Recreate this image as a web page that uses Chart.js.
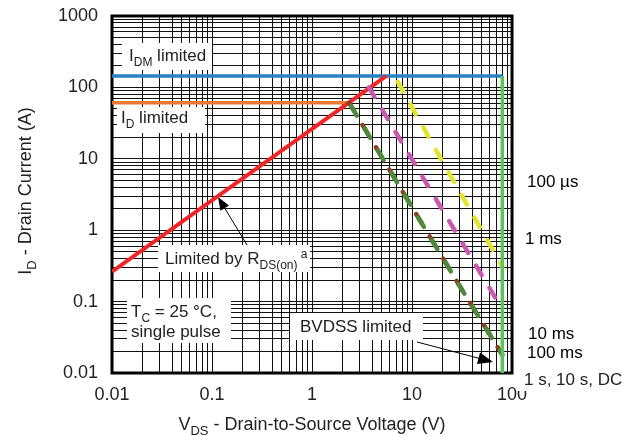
<!DOCTYPE html>
<html>
<head>
<meta charset="utf-8">
<script src="https://cdn.jsdelivr.net/npm/chart.js@4.4.1/dist/chart.umd.min.js"></script>
<style>
  html, body { margin: 0; padding: 0; background: #fff; }
  canvas { display: block; }
</style>
</head>
<body>
<canvas id="soa" width="639" height="436"></canvas>
<script>
// ── Axis ticks ───────────────────────────────────────────────
const xTicks      = [0.01, 0.1, 1, 10, 100];
const xTickLabels = ['0.01', '0.1', '1', '10', '100'];
const yTicks      = [0.01, 0.1, 1, 10, 100, 1000];
const yTickLabels = ['0.01', '0.1', '1', '10', '100', '1000'];

// ── Limit lines (V, A) ───────────────────────────────────────
const idmV = [0.01, 80];    const idmI = [145, 145];     // I_DM limited
const idV  = [0.01, 2.35];  const idI  = [61, 61];       // I_D limited
const rdsV = [0.01, 5.55];  const rdsI = [0.262, 145];   // R_DS(on) limited
const bvV  = [80, 80];      const bvI  = [145, 0.01];    // BVDSS, 1 s, 10 s, DC

// ── Pulse curves (V, A) ──────────────────────────────────────
const us100V = [7.2, 20, 80];          const us100I = [120, 9.3, 0.31];
const ms1V   = [3.7, 10, 80];          const ms1I   = [100, 9.8, 0.078];
const ms10V  = [2.35, 10, 30, 80];     const ms10I  = [61, 2.1, 0.165, 0.018];
const ms100V = [2.35, 10, 30, 80];     const ms100I = [61, 2.1, 0.165, 0.018];

const FONT = '"Liberation Sans", Arial, sans-serif';
const INK  = '#222';

const pts = (xs, ys) => xs.map((x, i) => ({ x, y: ys[i] }));

function logGrid(decades) {
  const out = [];
  for (let i = 0; i < decades.length - 1; i++)
    for (let k = 1; k <= 9; k++) out.push(decades[i] * k);
  out.push(decades.at(-1));
  return out;
}

function labelFor(v, ticks, labels) {
  const i = ticks.findIndex(t => Math.abs(Math.log10(v) - Math.log10(t)) < 1e-6);
  return i < 0 ? '' : labels[i];
}

function line(data, color, width, order, dash, dashOff) {
  return {
    data, order,
    showLine: true, pointRadius: 0,
    borderColor: color, borderWidth: width,
    borderDash: dash || [], borderDashOffset: dashOff || 0,
    borderCapStyle: dash ? 'round' : 'butt',
    tension: 0,
  };
}

// ── Text helpers ─────────────────────────────────────────────
function drawRich(ctx, parts, x, y, size) {
  let cx = x;
  for (const p of parts) {
    const s  = (p.sub || p.sup) ? Math.round(size * 0.7) : size;
    const dy = p.sub ? size * 0.3 : p.sup ? -size * 0.35 : 0;
    ctx.font = `${s}px ${FONT}`;
    ctx.fillText(p.t, cx, y + dy);
    cx += ctx.measureText(p.t).width;
  }
  return cx - x;
}

function richWidth(ctx, parts, size) {
  let w = 0;
  for (const p of parts) {
    const s = (p.sub || p.sup) ? Math.round(size * 0.7) : size;
    ctx.font = `${s}px ${FONT}`;
    w += ctx.measureText(p.t).width;
  }
  return w;
}

function box(ctx, x, y, w, h) {
  ctx.fillStyle = '#fff';
  ctx.fillRect(x, y, w, h);
}

function arrow(ctx, x1, y1, x2, y2, len, half) {
  const a = Math.atan2(y2 - y1, x2 - x1);
  ctx.strokeStyle = '#000';
  ctx.lineWidth = 1;
  ctx.beginPath();
  ctx.moveTo(x1, y1);
  ctx.lineTo(x2 - Math.cos(a) * len * 0.8, y2 - Math.sin(a) * len * 0.8);
  ctx.stroke();
  ctx.fillStyle = '#000';
  ctx.beginPath();
  ctx.moveTo(x2, y2);
  ctx.lineTo(x2 - Math.cos(a) * len - Math.sin(a) * half, y2 - Math.sin(a) * len + Math.cos(a) * half);
  ctx.lineTo(x2 - Math.cos(a) * len + Math.sin(a) * half, y2 - Math.sin(a) * len - Math.cos(a) * half);
  ctx.closePath();
  ctx.fill();
}

// ── Annotations plugin ───────────────────────────────────────
const annotations = {
  id: 'annotations',
  beforeDatasetsDraw(chart) {
    const { ctx, chartArea: ca } = chart;
    const L = ca.left, T = ca.top;
    ctx.save();
    ctx.textBaseline = 'alphabetic';
    ctx.textAlign = 'left';

    // frame
    ctx.strokeStyle = '#000';
    ctx.lineWidth = 3;
    ctx.strokeRect(ca.left, ca.top, ca.right - ca.left, ca.bottom - ca.top);

    // label boxes
    box(ctx, L + 10, T + 27, 90, 27);
    box(ctx, L + 5, T + 91, 88, 26);
    box(ctx, L + 46, T + 229, 152, 27);
    box(ctx, L + 15, T + 282, 104, 45);
    box(ctx, L + 178, T + 297, 133, 27);

    ctx.fillStyle = INK;
    drawRich(ctx, [{ t: 'I' }, { t: 'DM', sub: true }, { t: ' limited' }], L + 17, T + 45, 17);
    ctx.fillStyle = INK;
    drawRich(ctx, [{ t: 'I' }, { t: 'D', sub: true }, { t: ' limited' }], L + 9, T + 107, 17);
    ctx.fillStyle = INK;
    drawRich(ctx, [{ t: 'Limited by R' }, { t: 'DS(on)', sub: true }, { t: ' a', sup: true }], L + 53, T + 248, 17);
    ctx.fillStyle = INK;
    drawRich(ctx, [{ t: 'T' }, { t: 'C', sub: true }, { t: ' = 25 °C,' }], L + 19, T + 301, 17);
    drawRich(ctx, [{ t: 'single pulse' }], L + 19, T + 321, 17);
    drawRich(ctx, [{ t: 'BVDSS limited' }], L + 188, T + 316, 17);

    arrow(ctx, L + 135, T + 229, L + 106, T + 181, 13, 5);
    arrow(ctx, L + 305, T + 326, L + 381, T + 346, 15, 6);

    // curve labels right of the plot
    const R = ca.right;
    drawRich(ctx, [{ t: '100 µs' }], R + 15, 187, 17);
    drawRich(ctx, [{ t: '1 ms' }], R + 13, 244, 17);
    drawRich(ctx, [{ t: '10 ms' }], R + 16, 339, 17);
    drawRich(ctx, [{ t: '100 ms' }], R + 15, 358, 17);
    box(ctx, R + 5, 369, 110, 22);
    ctx.fillStyle = INK;
    drawRich(ctx, [{ t: '1 s, 10 s, DC' }], R + 12, 385, 17);

    // axis titles
    const xt = [{ t: 'V' }, { t: 'DS', sub: true }, { t: ' - Drain-to-Source Voltage (V)' }];
    const xw = richWidth(ctx, xt, 18);
    ctx.fillStyle = INK;
    drawRich(ctx, xt, (ca.left + ca.right) / 2 - xw / 2, 430, 18);

    const yt = [{ t: 'I' }, { t: 'D', sub: true }, { t: ' - Drain Current (A)' }];
    const yw = richWidth(ctx, yt, 18);
    ctx.translate(31, 191);
    ctx.rotate(-Math.PI / 2);
    ctx.fillStyle = INK;
    drawRich(ctx, yt, -yw / 2, 0, 18);
    ctx.restore();
  },
};

// ── Chart ────────────────────────────────────────────────────
new Chart(document.getElementById('soa'), {
  type: 'scatter',
  data: {
    datasets: [
      line(pts(bvV, bvI),       '#5cc45a', 3.5, 0),
      line(pts(ms100V, ms100I), '#4c8a3c', 4.5, 1, [11, 15], -4),
      line(pts(ms10V, ms10I),   '#8a4020', 4.5, 2, [11, 15], 0),
      line(pts(ms1V, ms1I),     '#c858b0', 4.5, 3, [11, 15], 0),
      line(pts(us100V, us100I), '#e4e42e', 4.5, 4, [11, 15], 0),
      line(pts(rdsV, rdsI),     '#f02525', 4, 5),
      line(pts(idV, idI),       '#ee7a32', 3.5, 6),
      line(pts(idmV, idmI),     '#2a80c4', 3.5, 7),
    ],
  },
  options: {
    responsive: false,
    animation: false,
    devicePixelRatio: 1,
    layout: { padding: { left: 0, top: 16, right: 127, bottom: 0 } },
    plugins: { legend: { display: false }, tooltip: { enabled: false } },
    scales: {
      x: {
        type: 'logarithmic', min: 0.01, max: 100,
        afterBuildTicks: s => { s.ticks = logGrid(xTicks).map(value => ({ value })); },
        afterFit: s => { s.height = 63; s.paddingLeft = 0; s.paddingRight = 0; },
        grid: { color: '#111', lineWidth: 1, drawTicks: false },
        border: { display: false },
        ticks: {
          autoSkip: false, maxRotation: 0, padding: 11, color: INK,
          font: { family: FONT, size: 18 },
          callback: v => labelFor(v, xTicks, xTickLabels),
        },
      },
      y: {
        type: 'logarithmic', min: 0.01, max: 1000,
        afterBuildTicks: s => { s.ticks = logGrid(yTicks).map(value => ({ value })); },
        afterFit: s => { s.width = 112; s.paddingTop = 0; s.paddingBottom = 0; },
        grid: { color: '#111', lineWidth: 1, drawTicks: false },
        border: { display: false },
        ticks: {
          autoSkip: false, padding: 14, color: INK,
          font: { family: FONT, size: 18 },
          callback: v => labelFor(v, yTicks, yTickLabels),
        },
      },
    },
  },
  plugins: [annotations],
});
</script>
</body>
</html>
